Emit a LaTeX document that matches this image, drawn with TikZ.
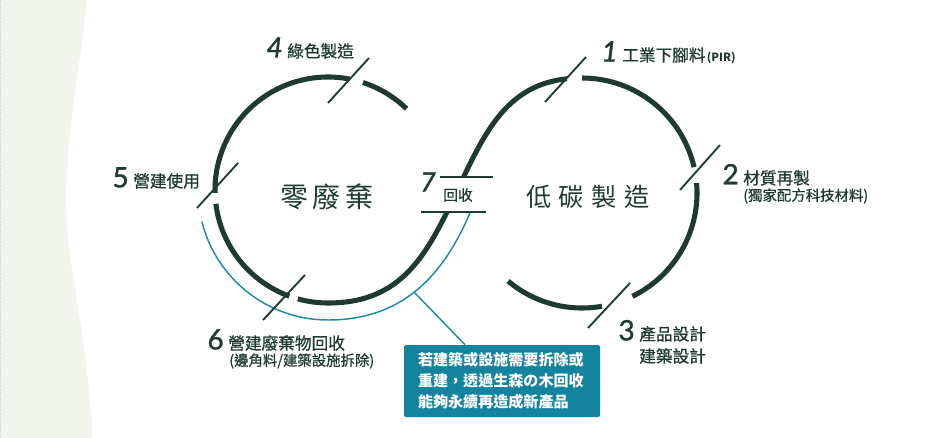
\documentclass[tikz,border=0pt]{standalone}
\usepackage{fontspec}
\setmainfont{Lato}
\newfontfamily\cjk{Noto Sans CJK TC}
\newfontfamily\cjkmid[FakeBold=0.8]{Noto Sans CJK TC}
\newfontfamily\numfont[FakeBold=1.4]{Lato}
\usetikzlibrary{calc,positioning}
\definecolor{ink}{HTML}{1E3B33}
\definecolor{sea}{HTML}{1A8CA8}
\definecolor{seabox}{HTML}{13839E}
\definecolor{paper}{HTML}{F2F4EE}
\tikzset{
  ring/.style={ink, line width=3.8pt},
  tick/.style={ink, line width=1.4pt},
  num/.style={ink, font=\numfont\fontsize{21}{21}\selectfont, inner sep=0pt},
  lbl/.style={ink, font=\cjkmid\fontsize{12.5}{15}\selectfont, inner sep=0pt},
  sublbl/.style={ink, font=\cjkmid\fontsize{10.8}{13}\selectfont, inner sep=0pt},
  notebox/.style={fill=seabox, rounded corners=1.5pt, text=white, font=\cjk\bfseries\fontsize{11.3}{15.75}\selectfont,
    text width=126pt, align=left, inner xsep=10.5pt, minimum height=54pt},
}
\begin{document}
\begin{tikzpicture}[x=0.75pt, y=-0.75pt]
  \useasboundingbox (0,0) rectangle (944,438);
  \fill[paper] (0,0) -- (87,0) .. controls (78,80) and (66,140) .. (66,200) .. controls (66,270) and (88,330) .. (92,438) -- (0,438) -- cycle;
  \draw[gray!35, densely dotted] (0.5,0) -- (0.5,438);
  \coordinate (L) at (328,190);
  \coordinate (R) at (582,193);
  % left loop
  \draw[ring] ($(L)+(-72:113)$) arc[start angle=-72, end angle=-46, radius=113];
  \draw[ring] ($(L)+(-79:113)$) arc[start angle=-79, end angle=-181.5, radius=113];
  \draw[ring] ($(L)+(173:113)$) arc[start angle=173, end angle=110, radius=113];
  % crossing
  \begin{scope}
    \clip (250,212.8) rectangle (520,340);
    \draw[ring] ($(L)+(105.5:113)$) arc[start angle=105.5, end angle=90, radius=113]
      .. controls (402,303) and (427,255) .. (457,191);
  \end{scope}
  \begin{scope}
    \clip (440,60) rectangle (567,176.2);
    \draw[ring] (457,191) .. controls (487,127) and (510,78) .. (582,78);
  \end{scope}
  % right loop
  \draw[ring] ($(R)+(-90:115)$) arc[start angle=-90, end angle=-13, radius=115];
  \draw[ring] ($(R)+(-5:115)$) arc[start angle=-5, end angle=64, radius=115];
  \draw[ring] ($(R)+(80:115)$) arc[start angle=80, end angle=130, radius=115];
  % recycling line
  \draw[sea, line width=1.1pt] ($(L)+(166:130)$) arc[start angle=166, end angle=90, radius=130]
    .. controls (410,320) and (447,266) .. coordinate[pos=0.45] (hub) (470,213);
  % ticks
  \draw[tick] (328,103) -- (369,58);
  \draw[tick] (197,208) -- (238,163);
  \draw[tick] (263,320) -- (305,275);
  \draw[tick] (545,102) -- (586,57);
  \draw[tick] (680,190) -- (720,145);
  \draw[tick] (588,328) -- (630,283);
  \draw[ink, line width=1.5pt] (440,177) -- (493,177);
  \draw[ink, line width=1.5pt] (421,212) -- (486,212);

  \node[ink, font=\cjk\fontsize{21}{21}\selectfont, inner sep=0pt] (zero) at (327,197) {零\kern3.5pt 廢\kern3.5pt 棄};
  \node[ink, font=\cjk\fontsize{19}{19}\selectfont, inner sep=0pt] (lowc) at (588,197) {低\kern5.5pt 碳\kern5.5pt 製\kern5.5pt 造};

  \node[lbl, anchor=west] (t4) at (287,51) {綠色製造};
  \node[num, font=\numfont\itshape\fontsize{21}{21}\selectfont, left=3pt of t4.base west, anchor=base east] (n4) {4};
  \node[lbl, anchor=west] (t5) at (133,181) {營建使用};
  \node[num, left=3pt of t5.base west, anchor=base east] (n5) {5};
  \node[lbl, anchor=west] (t6) at (228,343) {營建廢棄物回收};
  \node[num, left=3pt of t6.base west, anchor=base east] (n6) {6};
  \node[sublbl, anchor=west] (s6) at (229,361) {(邊角料/建築設施拆除)};
  \node[lbl, anchor=west] (t1) at (622,55) {工業下腳料};
  \node[num, font=\numfont\itshape\fontsize{21}{21}\selectfont, left=3pt of t1.base west, anchor=base east] (n1) {1};
  \node[ink, font=\cjk\bfseries\fontsize{8.5}{10}\selectfont, inner sep=0pt, right=0.5pt of t1.base east, anchor=base west] (pir) {(PIR)};
  \node[lbl, anchor=west] (t2) at (743,178) {材質再製};
  \node[num, left=3pt of t2.base west, anchor=base east] (n2) {2};
  \node[sublbl, anchor=west] (s2) at (743,196) {(獨家配方科技材料)};
  \node[lbl, anchor=west] (t3) at (639,334) {產品設計};
  \node[num, left=3pt of t3.base west, anchor=base east] (n3) {3};
  \node[lbl, anchor=west] (s3) at (639,356) {建築設計};
  \node[lbl, font=\cjkmid\fontsize{11}{13}\selectfont] (t7) at (458,195) {回收};
  \node[num, font=\numfont\itshape\fontsize{20}{20}\selectfont] (n7) at (428,182) {7};

  \node[notebox] (note) at (502,381) {若建築或設施需要拆除或\\重建，透過生森の木回收\\能夠永續再造成新產品};
  \draw[sea, line width=1.1pt] (hub) -- ([xshift=-27.75pt]note.north);
\end{tikzpicture}
\end{document}
